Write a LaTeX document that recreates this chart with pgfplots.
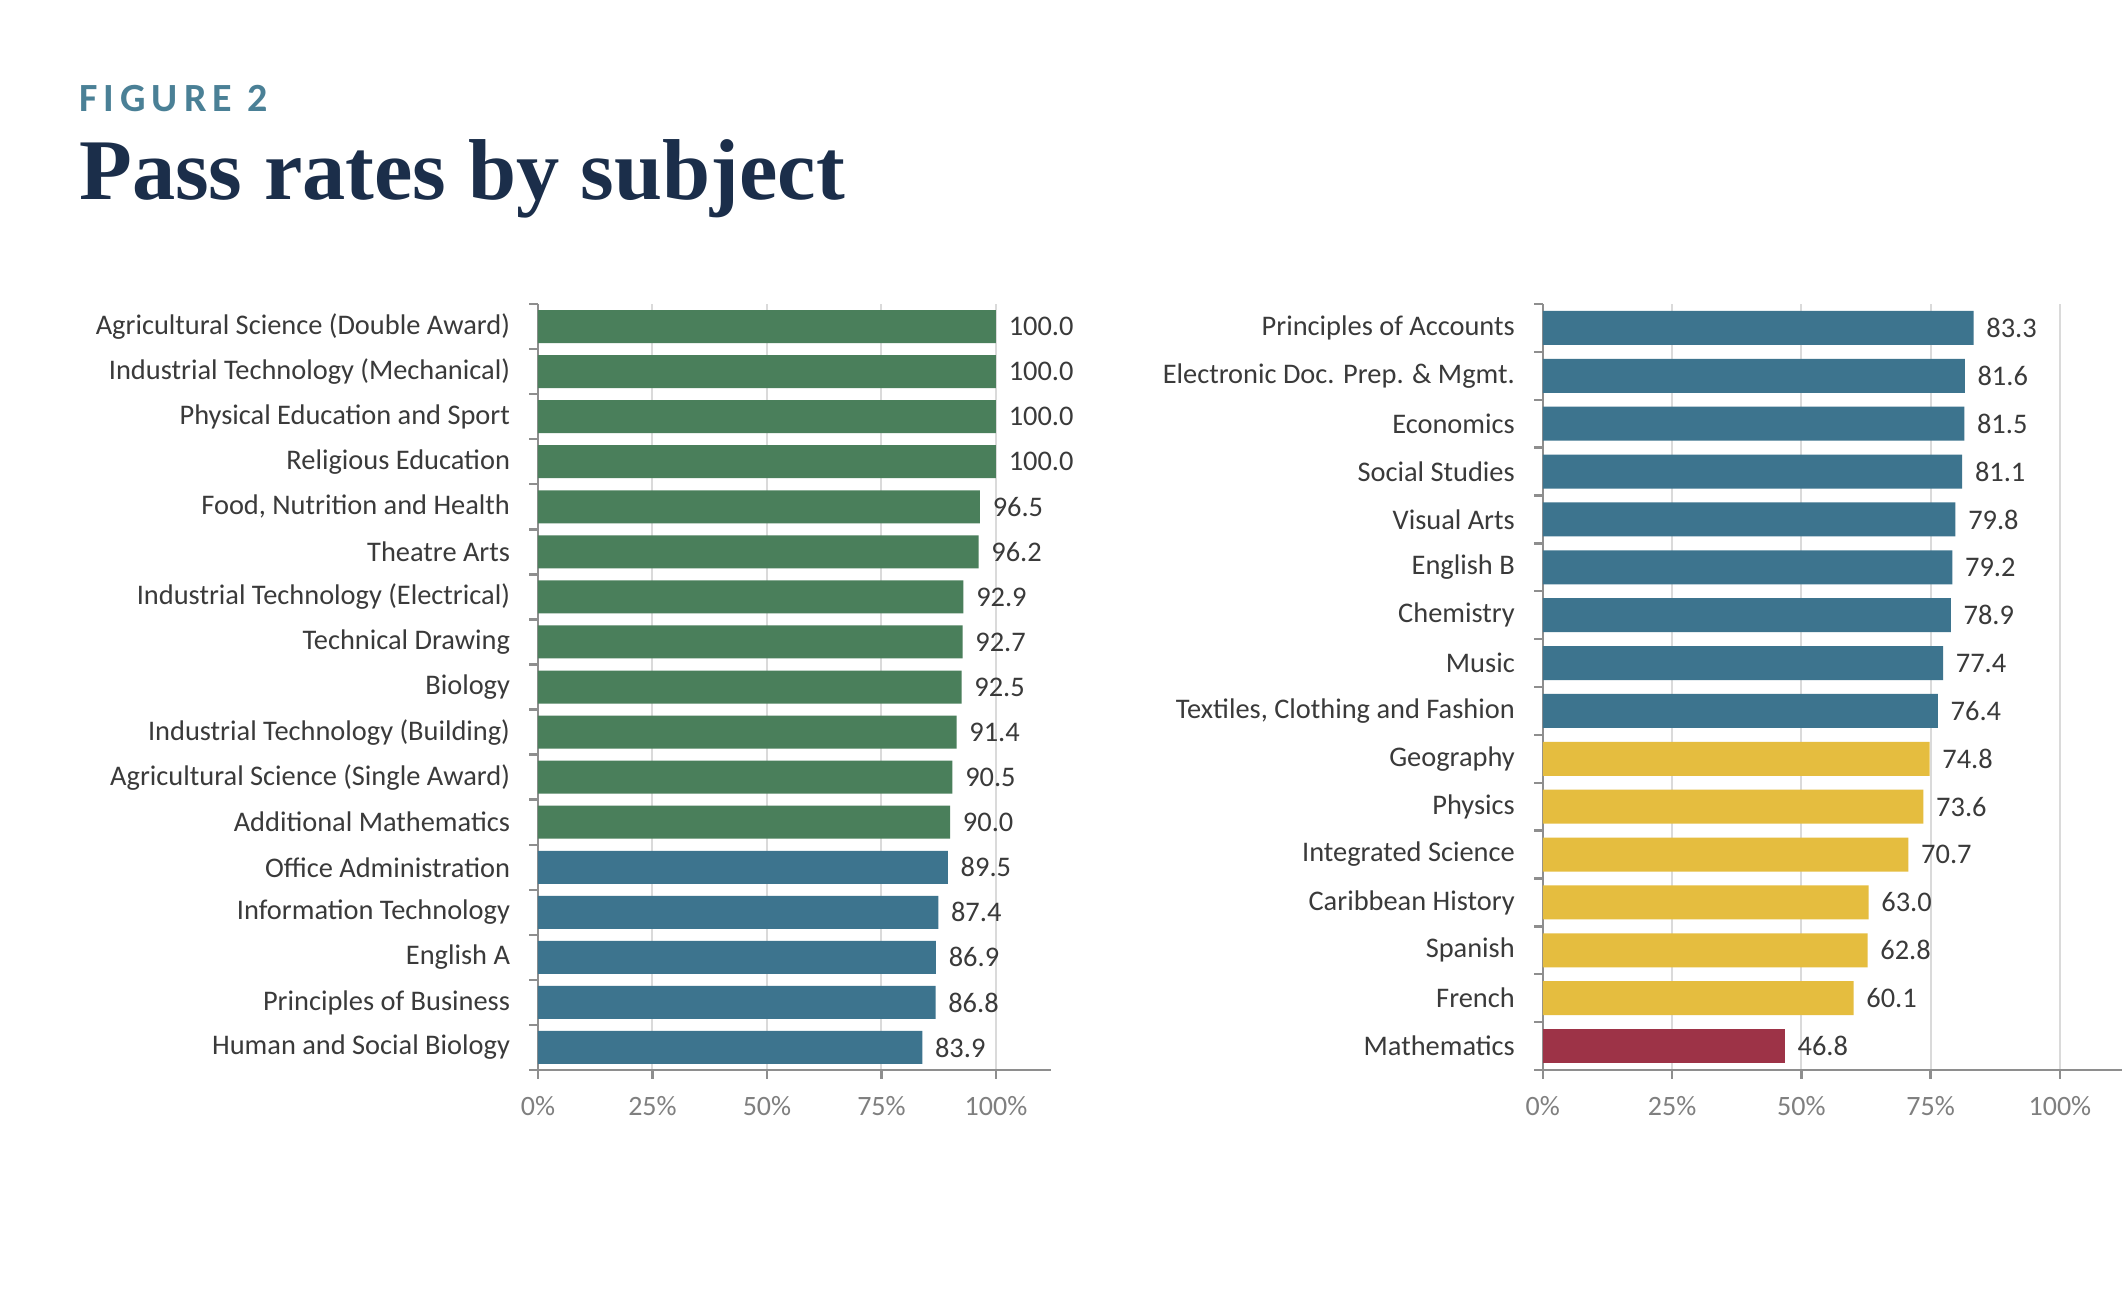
\documentclass[border=0pt]{standalone}
\usepackage{fontspec}
\setmainfont{Carlito}
\newfontfamily\titlefont{Liberation Serif}
\newfontfamily\figfont[LetterSpace=15]{Carlito}
\usepackage{pgfplots}
\pgfplotsset{compat=1.18}
\definecolor{cgreen}{HTML}{4A7F5B}
\definecolor{cblue}{HTML}{3D748E}
\definecolor{cyellow}{HTML}{E5BD3F}
\definecolor{cred}{HTML}{9D3347}
\definecolor{navy}{HTML}{1B2E4A}
\definecolor{figteal}{HTML}{4A8096}
\definecolor{gridgray}{HTML}{DADADA}
\definecolor{axgray}{HTML}{8E8E8E}
\definecolor{lblgray}{HTML}{3A3A3A}
\definecolor{tickgray}{HTML}{7F7F7F}
\pgfplotsset{
  mybars/.style={
    xbar, bar shift=0pt,
    scale only axis,
    anchor=south west,
    height=191.5pt,
    xmin=0, xmax=112,
    enlargelimits=false,
    y dir=reverse,
    axis x line*=bottom, axis y line*=left,
    axis line style={axgray, line width=0.6pt, -},
    tick style={axgray, line width=0.6pt},
    tick align=outside,
    major tick length=2.2pt,
    xtick={0,25,50,75,100},
    xticklabels={0\%,25\%,50\%,75\%,100\%},
    xmajorgrids,
    grid style={gridgray, line width=0.5pt},
    x tick label style={font=\fontsize{7}{8}\selectfont, text=tickgray, inner sep=0pt, yshift=-4.3pt},
    yticklabels={},
    extra y tick style={major tick length=0pt, tick label style={font=\fontsize{7.1}{8}\selectfont, text=lblgray, inner sep=0pt, xshift=-6.8pt}},
    /pgf/number format/assume math mode=true,
    nodes near coords={\pgfmathprintnumber[fixed,fixed zerofill,precision=1]{\pgfplotspointmeta}},
    nodes near coords style={font=\fontsize{7.1}{8}\selectfont, text=lblgray, anchor=west, inner sep=0pt, xshift=3pt},
    every axis plot/.append style={draw=none},
  }
}
\begin{document}
\begin{tikzpicture}
\useasboundingbox (0,0) rectangle (531pt,322.5pt);
\fill[white] (0,0) rectangle (531pt,322.5pt);
\node[anchor=base west, inner sep=0pt, text=figteal] at (19.65pt,294.7pt) {\figfont\bfseries\fontsize{10}{12}\selectfont FIGURE 2};
\node[anchor=base west, inner sep=0pt, text=navy] at (19.65pt,272.7pt) {\titlefont\bfseries\fontsize{21.6}{24}\selectfont Pass rates by subject};

\begin{axis}[mybars,
  at={(134.5pt,55pt)}, width=128.24pt,
  bar width=8.25pt,
  ymin=-0.5, ymax=16.5,
  ytick={-0.5,0.5,...,16.5},
  extra y ticks={0,1,2,3,4,5,6,7,8,9,10,11,12,13,14,15,16},
  extra y tick labels={Agricultural Science (Double Award),Industrial Technology (Mechanical),Physical Education and Sport,Religious Education,{Food, Nutrition and Health},Theatre Arts,Industrial Technology (Electrical),Technical Drawing,Biology,Industrial Technology (Building),Agricultural Science (Single Award),Additional Mathematics,Office Administration,Information Technology,English A,Principles of Business,Human and Social Biology},
]
\addplot[fill=cgreen] coordinates {(100.0,0) (100.0,1) (100.0,2) (100.0,3) (96.5,4) (96.2,5) (92.9,6) (92.7,7) (92.5,8) (91.4,9) (90.5,10) (90.0,11)};
\addplot[fill=cblue] coordinates {(89.5,12) (87.4,13) (86.9,14) (86.8,15) (83.9,16)};
\end{axis}

\begin{axis}[mybars,
  at={(385.7pt,55pt)}, width=144.8pt,
  bar width=8.5pt,
  ymin=-0.5, ymax=15.5,
  ytick={-0.5,0.5,...,15.5},
  extra y ticks={0,1,2,3,4,5,6,7,8,9,10,11,12,13,14,15},
  extra y tick labels={Principles of Accounts,Electronic Doc. Prep. \& Mgmt.,Economics,Social Studies,Visual Arts,English B,Chemistry,Music,{Textiles, Clothing and Fashion},Geography,Physics,Integrated Science,Caribbean History,Spanish,French,Mathematics},
]
\addplot[fill=cblue] coordinates {(83.3,0) (81.6,1) (81.5,2) (81.1,3) (79.8,4) (79.2,5) (78.9,6) (77.4,7) (76.4,8)};
\addplot[fill=cyellow] coordinates {(74.8,9) (73.6,10) (70.7,11) (63.0,12) (62.8,13) (60.1,14)};
\addplot[fill=cred] coordinates {(46.8,15)};
\end{axis}
\end{tikzpicture}
\end{document}
